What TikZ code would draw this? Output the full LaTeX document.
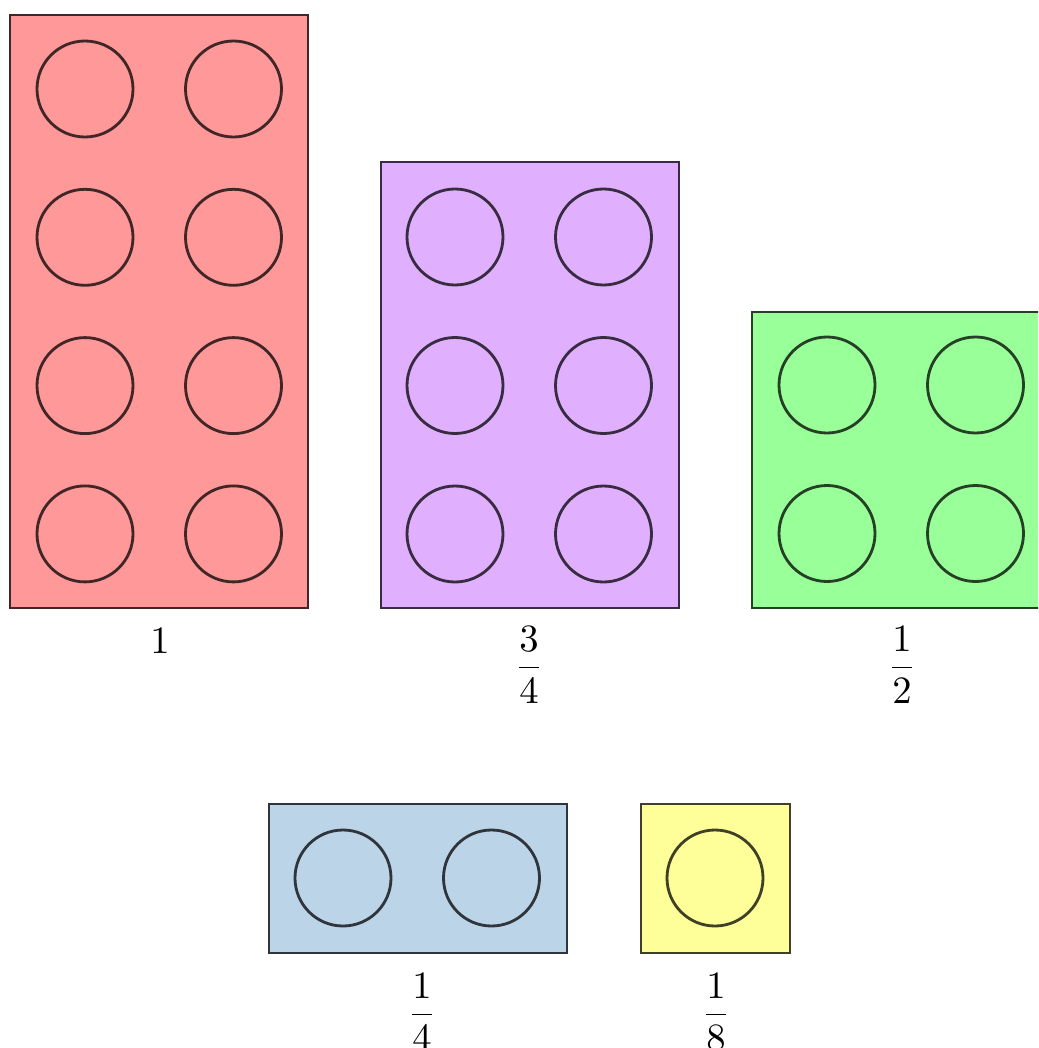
\documentclass[tikz,border=0pt]{standalone}
\usepackage{amsmath}
\usepackage{xcolor}
\definecolor{brickred}{RGB}{255, 152, 152}
\definecolor{brickpurple}{RGB}{224, 176, 255}
\definecolor{brickgreen}{RGB}{153, 255, 153}
\definecolor{brickblue}{RGB}{187, 212, 232}
\definecolor{brickyellow}{RGB}{255, 255, 153}
\usepackage{tikz}
\usetikzlibrary{positioning}

\tikzset{
    brick/.style={fill=#1, draw=#1!25!black, line width=1.5pt},
    stud/.style={draw=#1!25!black, line width=1.6pt},
    frac label/.style={scale=2.2, inner sep=0pt}
}

\begin{document}
\begin{tikzpicture}[x=0.02cm, y=-0.02cm]
    \useasboundingbox (0,0) rectangle (1038,1048);
    \clip (0,0) rectangle (1038,1048);
    % whole brick: 2 x 4 studs
    \begin{scope}[shift={(10,15)}]
        \filldraw[brick=brickred] (0,0) rectangle (298,593);
        \foreach \col in {0,1}
            \foreach \row in {0,...,3}
                \draw[stud=brickred] (75+148.5*\col, 74+148.3*\row) circle (48);
        \node[frac label] (lblone) at (150,626) {$1$};
    \end{scope}
    % three quarters: 2 x 3 studs
    \begin{scope}[shift={(381,162)}]
        \filldraw[brick=brickpurple] (0,0) rectangle (298,446);
        \foreach \col in {0,1}
            \foreach \row in {0,...,2}
                \draw[stud=brickpurple] (74+148.5*\col, 75+148.5*\row) circle (48);
        \node[frac label] (lblthreequarter) at (148,503) {$\dfrac{3}{4}$};
    \end{scope}
    % half: 2 x 2 studs
    \begin{scope}[shift={(752,312)}]
        \filldraw[brick=brickgreen] (0,0) rectangle (298,296);
        \foreach \col in {0,1}
            \foreach \row in {0,1}
                \draw[stud=brickgreen] (75+148.5*\col, 73+148.5*\row) circle (48);
        \node[frac label] (lblhalf) at (150,353) {$\dfrac{1}{2}$};
    \end{scope}
    % quarter: 2 x 1 studs
    \begin{scope}[shift={(269,804)}]
        \filldraw[brick=brickblue] (0,0) rectangle (298,149);
        \foreach \col in {0,1}
            \draw[stud=brickblue] (74+148.5*\col, 74) circle (48);
        \node[frac label] (lblquarter) at (153,208) {$\dfrac{1}{4}$};
    \end{scope}
    % eighth: 1 x 1 stud
    \begin{scope}[shift={(641,804)}]
        \filldraw[brick=brickyellow] (0,0) rectangle (149,149);
        \draw[stud=brickyellow] (74,74) circle (48);
        \node[frac label] (lbleighth) at (75,208) {$\dfrac{1}{8}$};
    \end{scope}
\end{tikzpicture}
\end{document}
